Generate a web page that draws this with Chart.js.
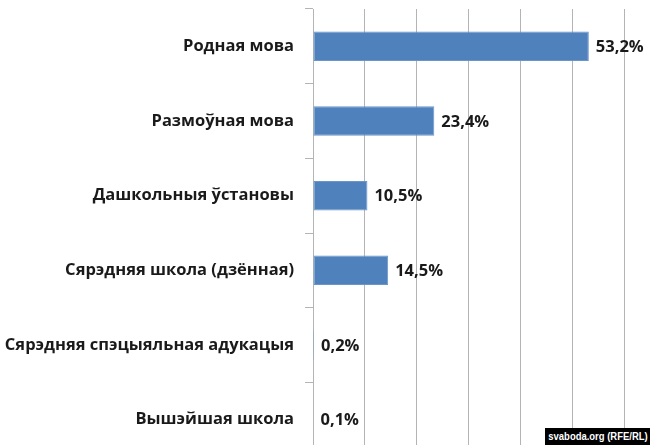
<!DOCTYPE html>
<html>
<head>
<meta charset="utf-8">
<script src="https://cdn.jsdelivr.net/npm/chart.js@4"></script>
<style>
    html, body { margin: 0; padding: 0; background: #fff; }
    #frame { position: relative; width: 650px; height: 445px; overflow: hidden; }
    #chart { position: absolute; left: 0; top: 0; }
    #mark {
        position: absolute; right: 0; bottom: 0;
        width: 105px; height: 17px; overflow: hidden;
        background: #000; color: #fff;
        font: bold 11px "Liberation Sans", Arial, sans-serif;
    }
    #mark span {
        position: absolute; left: 50%; top: 0; line-height: 17px; white-space: nowrap;
        transform: translateX(-50%) scaleX(0.86);
    }
</style>
</head>
<body>
<div id="frame">
    <canvas id="chart" width="660" height="460" style="width:660px;height:460px"></canvas>
    <div id="mark"><span>svaboda.org (RFE/RL)</span></div>
</div>
<script>
// Дадзеныя
const categories = [
    'Родная мова',
    'Размоўная мова',
    'Дашкольныя ўстановы',
    'Сярэдняя школа (дзённая)',
    'Сярэдняя спэцыяльная адукацыя',
    'Вышэйшая школа',
];
const values = [53.2, 23.4, 10.5, 14.5, 0.2, 0.1];
const valueLabels = ['53,2%', '23,4%', '10,5%', '14,5%', '0,2%', '0,1%'];

const FONT = "'Open Sans', 'Noto Sans', sans-serif";
const BLUE = '#4f81bd';
const GRID = '#b4b4b4';

// подпісы значэнняў справа ад слупкоў
const valueLabelPlugin = {
    id: 'valueLabels',
    afterDatasetsDraw(chart) {
        const { ctx } = chart;
        const meta = chart.getDatasetMeta(0);
        ctx.save();
        ctx.font = `bold 16.5px ${FONT}`;
        ctx.fillStyle = '#1a1a1a';
        ctx.textAlign = 'left';
        ctx.textBaseline = 'middle';
        meta.data.forEach((bar, i) => {
            ctx.fillText(valueLabels[i], bar.x + 7, bar.y + 1);
        });
        ctx.restore();
    },
};

new Chart(document.getElementById('chart'), {
    type: 'bar',
    data: {
        labels: categories,
        datasets: [{
            data: values,
            backgroundColor: BLUE,
            borderColor: '#6a95c9',
            borderWidth: 1,
            borderSkipped: false,
            categoryPercentage: 1,
            barPercentage: 0.395,
        }],
    },
    options: {
        responsive: false,
        devicePixelRatio: 1,
        indexAxis: 'y',
        animation: false,
        layout: { padding: { top: 9, right: 10, bottom: 3, left: 0 } },
        plugins: {
            legend: { display: false },
            tooltip: { enabled: false },
        },
        scales: {
            x: {
                min: 0,
                max: 65,
                ticks: { display: false, stepSize: 10 },
                grid: { color: GRID, drawTicks: false },
                border: { display: false },
            },
            y: {
                afterFit: (s) => {
                    s.width = 313;
                    s.paddingTop = 0;
                    s.paddingBottom = 0;
                },
                grid: { drawOnChartArea: false, drawTicks: true, tickLength: 8, color: GRID },
                border: { color: GRID },
                ticks: {
                    color: '#1a1a1a',
                    padding: 11,
                    font: { size: 16.5, weight: 'bold', family: FONT },
                },
            },
        },
    },
    plugins: [valueLabelPlugin],
});
</script>
</body>
</html>
